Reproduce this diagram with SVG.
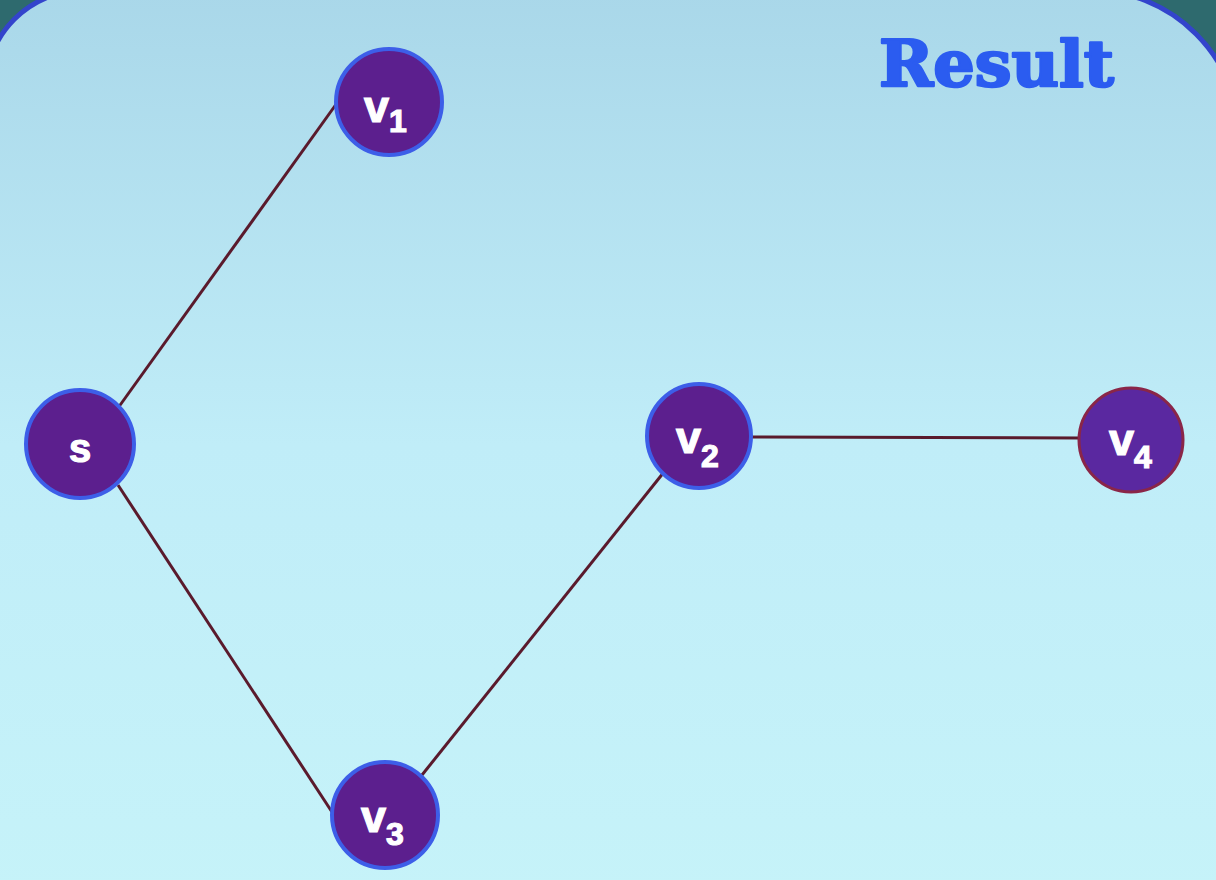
<svg xmlns="http://www.w3.org/2000/svg" width="1216" height="880" viewBox="0 0 1216 880">
<defs>
<linearGradient id="bg" x1="0" y1="0" x2="0" y2="1">
<stop offset="0" stop-color="#a9d7e9"/>
<stop offset="0.5" stop-color="#c0edf8"/>
<stop offset="1" stop-color="#c6f3f9"/>
</linearGradient>
<style>
.edge{stroke:#5a1a2c;stroke-width:3;fill:none}
.node{fill:#5c1f8e;stroke:#3d5ee8;stroke-width:4}
.nodeR{fill:#5a28a0;stroke:#8a2648;stroke-width:3}
.lbl{font-family:"Liberation Sans",Arial,sans-serif;font-weight:bold;fill:#ffffff;stroke:#ffffff;stroke-width:1.2}
.v{font-size:45px}
.sub{font-size:32px}
.title{font-family:"DejaVu Serif","Liberation Serif",serif;font-weight:bold;font-size:64px;fill:#2b5cf0;stroke:#2b5cf0;stroke-width:2.5;stroke-linejoin:round}
</style>
</defs>
<rect x="0" y="0" width="1216" height="880" fill="#2e6a6e"/>
<path d="M -15,90 A 100 100 0 0 1 85,-10 L 1090,-10 A 150 150 0 0 1 1240,140 L 1240,900 L -15,900 Z" fill="url(#bg)" stroke="#3344cc" stroke-width="5"/>
<text class="title" x="879" y="86" textLength="235" lengthAdjust="spacingAndGlyphs">Result</text>
<g id="connectors">
<line class="edge" x1="118" y1="408" x2="337" y2="103"/>
<line class="edge" x1="118" y1="485" x2="332" y2="812"/>
<line class="edge" x1="422" y1="775" x2="664" y2="472"/>
<line class="edge" x1="752" y1="437" x2="1080" y2="438"/>
</g>
<g id="node-s">
<circle class="node" cx="80" cy="444" r="54"/>
<text class="lbl" x="80" y="462" font-size="40" text-anchor="middle">s</text>
</g>
<g id="node-v1">
<circle class="node" cx="389" cy="102" r="53"/>
<text class="lbl" x="364" y="122"><tspan class="v">v</tspan><tspan class="sub" dy="10">1</tspan></text>
</g>
<g id="node-v2">
<circle class="node" cx="699" cy="436" r="52"/>
<text class="lbl" x="676" y="453"><tspan class="v">v</tspan><tspan class="sub" dy="14">2</tspan></text>
</g>
<g id="node-v3">
<circle class="node" cx="385" cy="815" r="53"/>
<text class="lbl" x="361" y="832"><tspan class="v">v</tspan><tspan class="sub" dy="13">3</tspan></text>
</g>
<g id="node-v4">
<circle class="nodeR" cx="1131" cy="440" r="52"/>
<text class="lbl" x="1109" y="455"><tspan class="v">v</tspan><tspan class="sub" dy="13">4</tspan></text>
</g>
</svg>
